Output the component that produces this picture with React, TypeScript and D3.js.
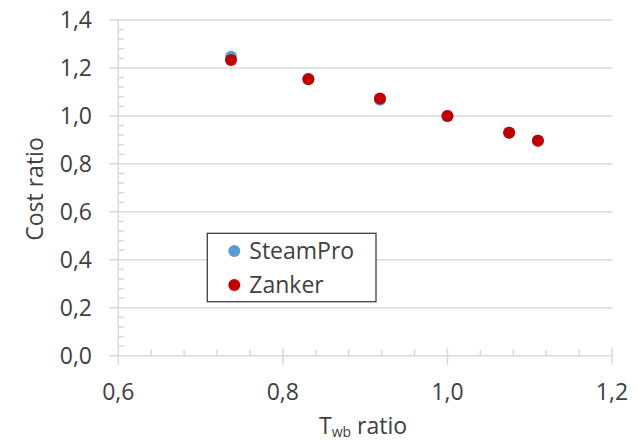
import React from "react";
import * as d3 from "d3";

const twbRatio = [0.737, 0.831, 0.918, 1.0, 1.075, 1.11];
const steamPro = [1.247, 1.155, 1.067, 1.0, 0.931, 0.897];
const zanker = [1.233, 1.153, 1.073, 1.0, 0.93, 0.896];
const xTicks = [0.6, 0.8, 1.0, 1.2];
const yTicks = [0, 0.2, 0.4, 0.6, 0.8, 1.0, 1.2, 1.4];
const seriesNames = ["SteamPro", "Zanker"];
const seriesColors = ["#5b9bd5", "#c00000"];

const W = 638;
const H = 441;
const FONT = "'Open Sans', sans-serif";
const TEXT = "#404040";
const GRID = "#d9d9d9";

export default function App() {
  const x = d3.scaleLinear().domain([0.6, 1.2]).range([118.3, 612]);
  const y = d3.scaleLinear().domain([0, 1.4]).range([355.7, 20]);
  const fmt = (v: number) => d3.format(".1f")(v).replace(".", ",");
  const xMinor = d3.range(0.6, 1.2001, 0.04).filter((v) => Math.abs(Math.round(v * 5) - v * 5) > 1e-6);
  const yMinor = d3.range(0, 1.4001, 0.04).filter((v) => Math.abs(Math.round(v * 5) - v * 5) > 1e-6);
  const series = [steamPro, zanker];
  const x0 = x(0.6);
  const y0 = y(0);

  return (
    <svg width={W} height={H} style={{ position: "absolute", left: 0, top: 0, background: "#fff" }} fontFamily={FONT}>
      <rect x={0} y={0} width={W} height={H} fill="#fff" />
      {/* gridlines */}
      {yTicks.map((t) => (
        <line key={"g" + t} x1={x0 - 9} x2={x(1.2)} y1={y(t)} y2={y(t)} stroke={GRID} strokeWidth={1.5} />
      ))}
      {/* y axis */}
      <line x1={x0} x2={x0} y1={y(1.4)} y2={y0 + 9} stroke={GRID} strokeWidth={1.5} />
      {yMinor.map((t) => (
        <line key={"ym" + t} x1={x0} x2={x0 + 6} y1={y(t)} y2={y(t)} stroke={GRID} strokeWidth={1.5} />
      ))}
      {/* x axis minor & major ticks */}
      {xMinor.map((t) => (
        <line key={"xm" + t} x1={x(t)} x2={x(t)} y1={y0} y2={y0 - 6} stroke={GRID} strokeWidth={1.5} />
      ))}
      {xTicks.slice(1).map((t) => (
        <line key={"xM" + t} x1={x(t)} x2={x(t)} y1={y0 - 8} y2={y0 + 9} stroke={GRID} strokeWidth={1.5} />
      ))}
      {/* tick labels */}
      {yTicks.map((t) => (
        <text key={"yl" + t} x={92} y={y(t) + 8.3} textAnchor="end" fontSize={23} fill={TEXT}>
          {fmt(t)}
        </text>
      ))}
      {xTicks.map((t) => (
        <text key={"xl" + t} x={x(t)} y={400} textAnchor="middle" fontSize={23} fill={TEXT}>
          {fmt(t)}
        </text>
      ))}
      {/* axis titles */}
      <text transform="translate(43,189) rotate(-90)" textAnchor="middle" fontSize={23} fill={TEXT}>
        Cost ratio
      </text>
      <text x={363} y={434} textAnchor="middle" fontSize={23} fill={TEXT}>
        T<tspan fontSize={14} dy={3}>wb</tspan>
        <tspan dy={-3}> ratio</tspan>
      </text>
      {/* points */}
      {series.map((s, si) =>
        s.map((v, i) => (
          <circle key={si + "-" + i} cx={x(twbRatio[i])} cy={y(v)} r={6} fill={seriesColors[si]} />
        ))
      )}
      {/* legend */}
      <rect x={207.3} y={233.3} width={168.7} height={68.4} fill="#fff" stroke={TEXT} strokeWidth={1.3} />
      {seriesNames.map((n, i) => (
        <g key={n}>
          <circle cx={234.3} cy={251 + i * 34} r={6} fill={seriesColors[i]} />
          <text x={249.3} y={259.3 + i * 34} fontSize={23} fill={TEXT}>
            {n}
          </text>
        </g>
      ))}
    </svg>
  );
}
